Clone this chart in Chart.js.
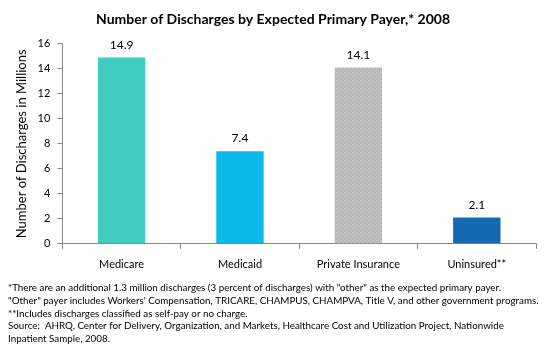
<!DOCTYPE html>
<html>
<head>
<meta charset="utf-8">
<script src="https://cdn.jsdelivr.net/npm/chart.js@4/dist/chart.umd.min.js"></script>
<style>
  html, body { margin: 0; padding: 0; background: #fff; }
  #wrap { width: 550px; height: 350px; position: relative; }
</style>
</head>
<body>
<div id="wrap"><canvas id="chart"></canvas></div>
<script>
const payers = ['Medicare', 'Medicaid', 'Private Insurance', 'Uninsured**'];
const discharges = [14.9, 7.4, 14.1, 2.1];
const yTicks = [0, 2, 4, 6, 8, 10, 12, 14, 16];
const footnotes = [
    '*There are an additional 1.3 million discharges (3 percent of discharges) with "other" as the expected primary payer.',
    '"Other" payer includes Workers\' Compensation, TRICARE, CHAMPUS, CHAMPVA, Title V, and other government programs.',
    '**Includes discharges classified as self-pay or no charge.',
    'Source:  AHRQ, Center for Delivery, Organization, and Markets, Healthcare Cost and Utilization Project, Nationwide',
    'Inpatient Sample, 2008.'
];

const FONT = 'Lato, "Open Sans", sans-serif';

// grey bar gets a light speckle like the original
function speckle() {
    const c = document.createElement('canvas');
    c.width = 4; c.height = 4;
    const g = c.getContext('2d');
    g.fillStyle = '#b9b9b9';
    g.fillRect(0, 0, 4, 4);
    g.fillStyle = '#d0d0d0';
    g.fillRect(0, 0, 1, 1);
    g.fillRect(2, 2, 1, 1);
    return g.createPattern(c, 'repeat');
}

const barLabels = {
    id: 'barLabels',
    afterDatasetsDraw(chart) {
        const ctx = chart.ctx;
        const meta = chart.getDatasetMeta(0);
        ctx.save();
        ctx.font = '12px ' + FONT;
        ctx.fillStyle = '#000';
        ctx.textAlign = 'center';
        ctx.textBaseline = 'alphabetic';
        meta.data.forEach((bar, i) => {
            ctx.fillText(discharges[i].toFixed(1), bar.x, bar.y - 9);
        });
        ctx.restore();
    }
};

const notes = {
    id: 'notes',
    afterDraw(chart) {
        const ctx = chart.ctx;
        ctx.save();
        ctx.font = '9.8px ' + FONT;
        ctx.fillStyle = '#000';
        ctx.textBaseline = 'alphabetic';
        footnotes.forEach((t, i) => {
            ctx.fillText(t, 8, 291 + i * 12.75);
        });
        ctx.restore();
    }
};

new Chart(document.getElementById('chart'), {
    type: 'bar',
    data: {
        labels: payers,
        datasets: [{
            data: discharges,
            backgroundColor: ['#40cdbf', '#0bb9e8', speckle(), '#1569b2'],
            borderWidth: 0,
            categoryPercentage: 1,
            barPercentage: 0.4
        }]
    },
    options: {
        responsive: true,
        maintainAspectRatio: false,
        animation: false,
        layout: { padding: { left: 10, right: 14, top: 0, bottom: 70 } },
        plugins: {
            legend: { display: false },
            tooltip: { enabled: false },
            title: {
                display: true,
                text: 'Number of Discharges by Expected Primary Payer,* 2008',
                font: { family: FONT, size: 14, weight: 'bold' },
                color: '#000',
                padding: { top: 11, bottom: 16 }
            }
        },
        scales: {
            x: {
                grid: { display: true, drawOnChartArea: false, offset: true, color: '#888', tickLength: 5 },
                border: { color: '#888' },
                ticks: { color: '#000', font: { family: FONT, size: 11 }, padding: 9 }
            },
            y: {
                min: 0,
                max: 16,
                afterBuildTicks(axis) { axis.ticks = yTicks.map(v => ({ value: v })); },
                grid: { display: true, drawOnChartArea: false, color: '#888', tickLength: 5 },
                border: { color: '#888' },
                ticks: { color: '#000', font: { family: FONT, size: 11 }, padding: 7 },
                title: {
                    display: true,
                    text: 'Number of Discharges in Millions',
                    color: '#000',
                    font: { family: FONT, size: 13 },
                    padding: { bottom: 1 }
                }
            }
        }
    },
    plugins: [barLabels, notes]
});
</script>
</body>
</html>
